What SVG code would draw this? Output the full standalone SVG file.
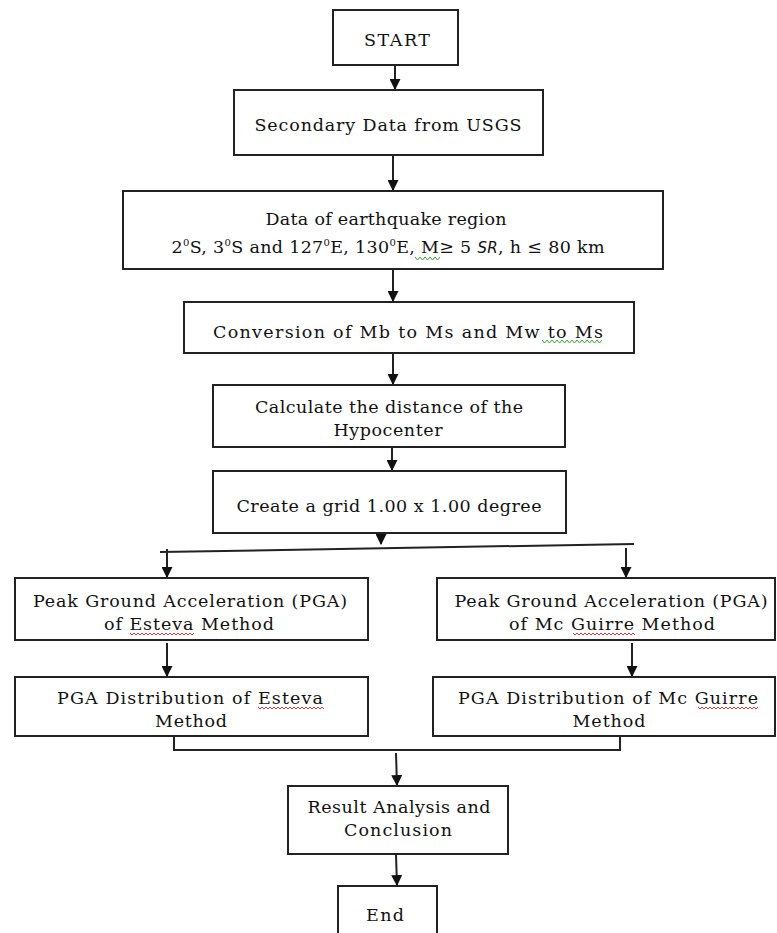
<svg xmlns="http://www.w3.org/2000/svg" width="777" height="933" viewBox="0 0 777 933">
<style>
.box{fill:#fff;stroke:#222;stroke-width:2}
.t{font-family:"DejaVu Serif","Liberation Serif",serif;font-size:17.5px;fill:#111;text-anchor:middle}
.c{fill:none;stroke:#222;stroke-width:2}
.sq{fill:none;stroke-width:1}
.r{stroke:#d33}
.g{stroke:#3a3}
</style>
<defs>
<marker id="ah" viewBox="0 0 10 10" refX="9" refY="5" markerWidth="5.5" markerHeight="5.5" orient="auto" markerUnits="strokeWidth">
<path d="M0,0 L10,5 L0,10 z" fill="#111"/>
</marker>
</defs>
<rect width="777" height="933" fill="#fff"/>
<g id="connectors">
<line class="c" x1="395" y1="65" x2="395" y2="89" marker-end="url(#ah)"/>
<line class="c" x1="393" y1="155" x2="393" y2="190" marker-end="url(#ah)"/>
<line class="c" x1="393" y1="269" x2="393" y2="301" marker-end="url(#ah)"/>
<line class="c" x1="393" y1="353" x2="393" y2="384" marker-end="url(#ah)"/>
<line class="c" x1="392" y1="447" x2="392" y2="470" marker-end="url(#ah)"/>
<line class="c" x1="381" y1="528" x2="381" y2="544" marker-end="url(#ah)"/>
<line class="c" x1="160" y1="552" x2="634" y2="544"/>
<line class="c" x1="167" y1="549" x2="167" y2="577" marker-end="url(#ah)"/>
<line class="c" x1="626" y1="548" x2="626" y2="577" marker-end="url(#ah)"/>
<line class="c" x1="167" y1="643" x2="167" y2="676" marker-end="url(#ah)"/>
<line class="c" x1="632" y1="643" x2="632" y2="676" marker-end="url(#ah)"/>
<polyline class="c" points="174,736 174,750 620,750 620,736"/>
<line class="c" x1="396" y1="753" x2="397" y2="785" marker-end="url(#ah)"/>
<line class="c" x1="396" y1="855" x2="397" y2="885" marker-end="url(#ah)"/>
</g>
<g id="start"><rect class="box" x="333" y="10" width="125" height="55"/><text class="t" x="397" y="46" textLength="66">START</text></g>
<g id="secondary"><rect class="box" x="234" y="90" width="309" height="65"/><text class="t" x="388" y="131" textLength="267">Secondary Data from USGS</text></g>
<g id="region"><rect class="box" x="123" y="191" width="540" height="78"/>
<text class="t" x="386" y="225" textLength="241">Data of earthquake region</text>
<text class="t" x="388" y="253" textLength="433">2<tspan font-size="10" dy="-7">0</tspan><tspan dy="7">S, 3</tspan><tspan font-size="10" dy="-7">0</tspan><tspan dy="7">S and 127</tspan><tspan font-size="10" dy="-7">0</tspan><tspan dy="7">E, 130</tspan><tspan font-size="10" dy="-7">0</tspan><tspan dy="7">E, M≥ 5 </tspan><tspan font-style="italic" font-family="DejaVu Sans, Liberation Sans, sans-serif" font-size="15">SR</tspan>, h ≤ 80 km</text>
<path class="sq g" d="M415,257 l2.5,3 l2.5,-3 l2.5,3 l2.5,-3 l2.5,3 l2.5,-3 l2.5,3 l2.5,-3 l2.5,3 l2.5,-3"/>
</g>
<g id="conversion"><rect class="box" x="184" y="302" width="450" height="51"/><text class="t" x="408" y="338" textLength="390">Conversion of Mb to Ms and Mw to  Ms</text>
<path class="sq g" d="M542,340 l2.5,3 l2.5,-3 l2.5,3 l2.5,-3 l2.5,3 l2.5,-3 l2.5,3 l2.5,-3 l2.5,3 l2.5,-3 l2.5,3 l2.5,-3 l2.5,3 l2.5,-3 l2.5,3 l2.5,-3 l2.5,3 l2.5,-3 l2.5,3 l2.5,-3 l2.5,3 l2.5,-3 l2.5,3 l2.5,-3"/>
</g>
<g id="distance"><rect class="box" x="213" y="385" width="352" height="62"/><text class="t" x="389" y="413" textLength="268">Calculate the distance of the</text><text class="t" x="388" y="436" textLength="109">Hypocenter</text></g>
<g id="grid"><rect class="box" x="213" y="471" width="353" height="62"/><text class="t" x="389" y="512" textLength="305">Create a grid 1.00 x 1.00 degree</text></g>
<g id="pga-esteva"><rect class="box" x="15" y="578" width="353" height="62"/><text class="t" x="190" y="607" textLength="314">Peak Ground Acceleration (PGA)</text><text class="t" x="189" y="630" textLength="170">of Esteva Method</text>
<path class="sq r" d="M130,633 l2,2 l2,-2 l2,2 l2,-2 l2,2 l2,-2 l2,2 l2,-2 l2,2 l2,-2 l2,2 l2,-2 l2,2 l2,-2 l2,2 l2,-2 l2,2 l2,-2 l2,2 l2,-2 l2,2 l2,-2 l2,2 l2,-2 l2,2 l2,-2 l2,2 l2,-2 l2,2 l2,-2 l2,2 l2,-2"/>
</g>
<g id="dist-esteva"><rect class="box" x="15" y="677" width="353" height="59"/><text class="t" x="190" y="704" textLength="266">PGA Distribution of Esteva</text><text class="t" x="191" y="727" textLength="72">Method</text>
<path class="sq r" d="M258,707 l2,2 l2,-2 l2,2 l2,-2 l2,2 l2,-2 l2,2 l2,-2 l2,2 l2,-2 l2,2 l2,-2 l2,2 l2,-2 l2,2 l2,-2 l2,2 l2,-2 l2,2 l2,-2 l2,2 l2,-2 l2,2 l2,-2 l2,2 l2,-2 l2,2 l2,-2 l2,2 l2,-2 l2,2 l2,-2 l2,2"/>
</g>
<g id="pga-mcguirre"><rect class="box" x="437" y="578" width="338" height="62"/><text class="t" x="611" y="607" textLength="313">Peak Ground Acceleration (PGA)</text><text class="t" x="612" y="630" textLength="206">of Mc Guirre Method</text>
<path class="sq r" d="M573,633 l2,2 l2,-2 l2,2 l2,-2 l2,2 l2,-2 l2,2 l2,-2 l2,2 l2,-2 l2,2 l2,-2 l2,2 l2,-2 l2,2 l2,-2 l2,2 l2,-2 l2,2 l2,-2 l2,2 l2,-2 l2,2 l2,-2 l2,2 l2,-2 l2,2 l2,-2 l2,2 l2,-2 l2,2"/>
</g>
<g id="dist-mcguirre"><rect class="box" x="433" y="677" width="342" height="59"/><text class="t" x="608" y="704" textLength="300">PGA Distribution of Mc Guirre</text><text class="t" x="609" y="727" textLength="73">Method</text>
<path class="sq r" d="M698,707 l2,2 l2,-2 l2,2 l2,-2 l2,2 l2,-2 l2,2 l2,-2 l2,2 l2,-2 l2,2 l2,-2 l2,2 l2,-2 l2,2 l2,-2 l2,2 l2,-2 l2,2 l2,-2 l2,2 l2,-2 l2,2 l2,-2 l2,2 l2,-2 l2,2 l2,-2 l2,2 l2,-2"/>
</g>
<g id="result"><rect class="box" x="288" y="786" width="220" height="68"/><text class="t" x="399" y="813" textLength="183">Result Analysis and</text><text class="t" x="398" y="836" textLength="108">Conclusion</text></g>
<g id="end"><rect class="box" x="338" y="886" width="99" height="52"/><text class="t" x="385" y="921" textLength="38">End</text></g>
</svg>
